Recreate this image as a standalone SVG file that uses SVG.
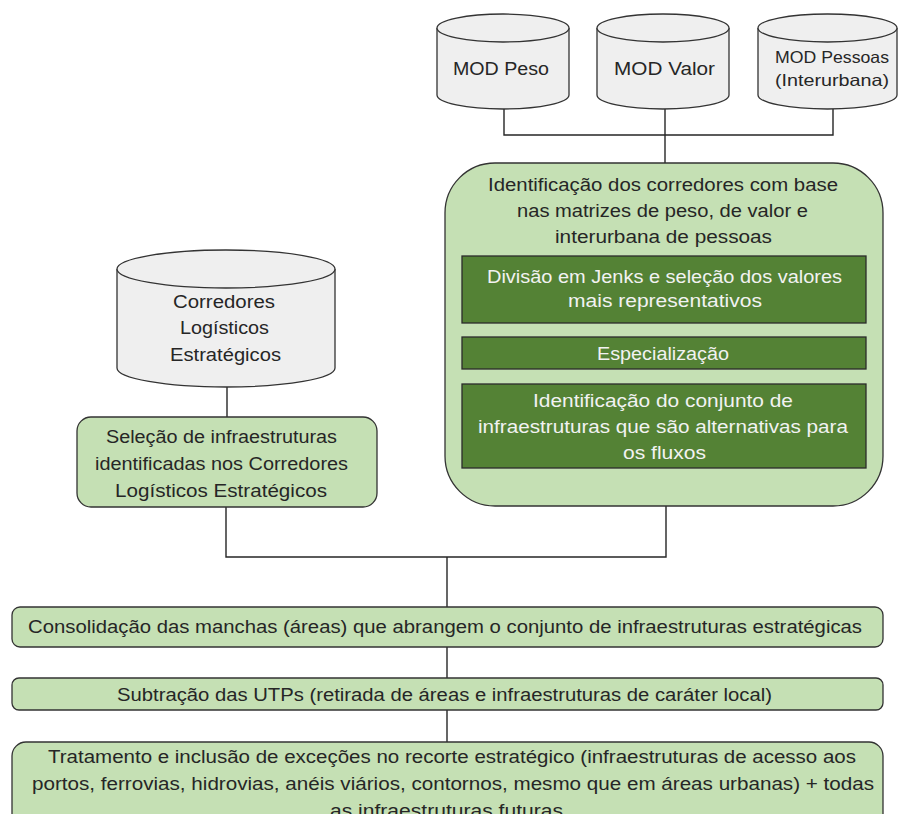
<svg xmlns="http://www.w3.org/2000/svg" width="899" height="814" viewBox="0 0 899 814">
<style>
text{font-family:"Liberation Sans",Arial,sans-serif;font-size:17.5px;fill:#262626}
.lt{fill:#F2F2F2}
.cyl{fill:#EFEFEF;stroke:#333;stroke-width:1.3}
.lg{fill:#C5E0B4;stroke:#333;stroke-width:1.3}
.dg{fill:#548235;stroke:#2B2B2B;stroke-width:1.3}
.con{fill:none;stroke:#262626;stroke-width:1.4}
</style>
<rect width="899" height="814" fill="#FFFFFF"/>
<g id="connectors" class="con">
<path d="M504,109 V135 H833 V109"/>
<path d="M665,109 V163"/>
<path d="M664,323 V337"/>
<path d="M664,369 V384"/>
<path d="M227,387 V417"/>
<path d="M226,507 V557 H666 V506"/>
<path d="M447,557 V607"/>
<path d="M447,647 V678"/>
<path d="M447,710 V742"/>
</g>
<g id="mod-peso">
<path class="cyl" d="M437,28 A66,14 0 0 1 569,28 V95 A66,14 0 0 1 437,95 Z"/>
<path class="cyl" fill="none" d="M437,28 A66,14 0 0 0 569,28"/>
<text x="453" y="75" textLength="96" lengthAdjust="spacingAndGlyphs">MOD Peso</text>
</g>
<g id="mod-valor">
<path class="cyl" d="M597,28 A66,14 0 0 1 729,28 V95 A66,14 0 0 1 597,95 Z"/>
<path class="cyl" fill="none" d="M597,28 A66,14 0 0 0 729,28"/>
<text x="614" y="75" textLength="101" lengthAdjust="spacingAndGlyphs">MOD Valor</text>
</g>
<g id="mod-pessoas">
<path class="cyl" d="M758,28 A69.5,14 0 0 1 897,28 V95 A69.5,14 0 0 1 758,95 Z"/>
<path class="cyl" fill="none" d="M758,28 A69.5,14 0 0 0 897,28"/>
<text x="775" y="63" textLength="114" lengthAdjust="spacingAndGlyphs" style="font-size:16.5px">MOD Pessoas</text>
<text x="775" y="86" textLength="114" lengthAdjust="spacingAndGlyphs" style="font-size:16.5px">(Interurbana)</text>
</g>
<g id="identificacao-corredores">
<rect class="lg" x="445" y="163" width="438" height="343" rx="50" ry="50"/>
<text x="488" y="191" textLength="350" lengthAdjust="spacingAndGlyphs">Identificação dos corredores com base</text>
<text x="517" y="217" textLength="291" lengthAdjust="spacingAndGlyphs">nas matrizes de peso, de valor e</text>
<text x="555" y="243" textLength="217" lengthAdjust="spacingAndGlyphs">interurbana de pessoas</text>
</g>
<g id="divisao-jenks">
<rect class="dg" x="462" y="256" width="404" height="67"/>
<text class="lt" x="487" y="283" textLength="355" lengthAdjust="spacingAndGlyphs">Divisão em Jenks e seleção dos valores</text>
<text class="lt" x="568" y="307" textLength="194" lengthAdjust="spacingAndGlyphs">mais representativos</text>
</g>
<g id="especializacao">
<rect class="dg" x="462" y="337" width="404" height="32"/>
<text class="lt" x="597" y="360" textLength="132" lengthAdjust="spacingAndGlyphs">Especialização</text>
</g>
<g id="identificacao-conjunto">
<rect class="dg" x="462" y="384" width="404" height="84"/>
<text class="lt" x="533" y="407" textLength="260" lengthAdjust="spacingAndGlyphs">Identificação do conjunto de</text>
<text class="lt" x="478" y="433" textLength="370" lengthAdjust="spacingAndGlyphs">infraestruturas que são alternativas para</text>
<text class="lt" x="623" y="459" textLength="83" lengthAdjust="spacingAndGlyphs">os fluxos</text>
</g>
<g id="corredores-logisticos">
<path class="cyl" d="M117,269 A109,19 0 0 1 335,269 V368 A109,19 0 0 1 117,368 Z"/>
<path class="cyl" fill="none" d="M117,269 A109,19 0 0 0 335,269"/>
<text x="173" y="308" textLength="102" lengthAdjust="spacingAndGlyphs">Corredores</text>
<text x="180" y="334" textLength="89" lengthAdjust="spacingAndGlyphs">Logísticos</text>
<text x="170" y="361" textLength="111" lengthAdjust="spacingAndGlyphs">Estratégicos</text>
</g>
<g id="selecao-infraestruturas">
<rect class="lg" x="77" y="417" width="300" height="90" rx="14" ry="14"/>
<text x="106" y="443" textLength="231" lengthAdjust="spacingAndGlyphs">Seleção de infraestruturas</text>
<text x="95" y="470" textLength="253" lengthAdjust="spacingAndGlyphs">identificadas nos Corredores</text>
<text x="115" y="497" textLength="212" lengthAdjust="spacingAndGlyphs">Logísticos Estratégicos</text>
</g>
<g id="consolidacao">
<rect class="lg" x="12" y="607" width="871" height="40" rx="8" ry="8"/>
<text x="28" y="633" textLength="834" lengthAdjust="spacingAndGlyphs">Consolidação das manchas (áreas) que abrangem o conjunto de infraestruturas estratégicas</text>
</g>
<g id="subtracao">
<rect class="lg" x="12" y="678" width="871" height="32" rx="7" ry="7"/>
<text x="117" y="701" textLength="655" lengthAdjust="spacingAndGlyphs">Subtração das UTPs (retirada de áreas e infraestruturas de caráter local)</text>
</g>
<g id="tratamento">
<rect class="lg" x="12" y="742" width="871" height="100" rx="14" ry="14"/>
<text x="48" y="763" textLength="808" lengthAdjust="spacingAndGlyphs">Tratamento e inclusão de exceções no recorte estratégico (infraestruturas de acesso aos</text>
<text x="32" y="790" textLength="842" lengthAdjust="spacingAndGlyphs">portos, ferrovias, hidrovias, anéis viários, contornos, mesmo que em áreas urbanas) + todas</text>
<text x="330" y="817" textLength="233" lengthAdjust="spacingAndGlyphs">as infraestruturas futuras</text>
</g>
</svg>
